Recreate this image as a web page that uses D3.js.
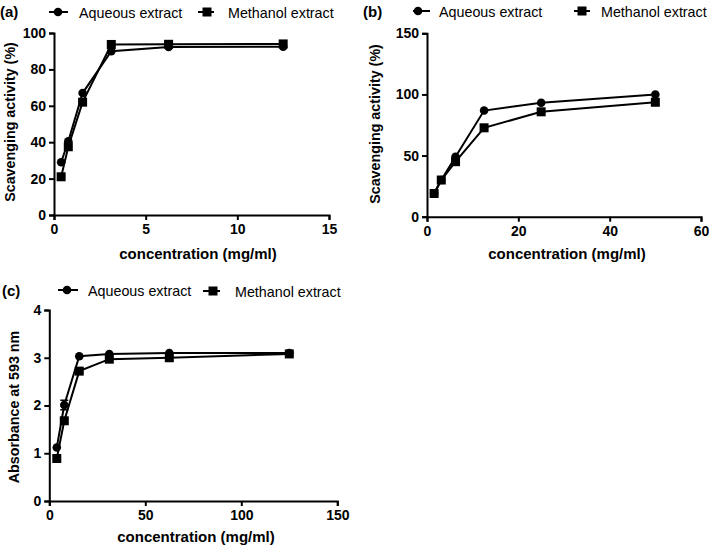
<!DOCTYPE html>
<html><head><meta charset="utf-8">
<script src="https://cdn.jsdelivr.net/npm/d3@7"></script>
<style>body{margin:0;background:#fff}svg{display:block;font-family:"Liberation Sans",Arial,sans-serif}</style>
</head><body>
<svg id="chart" width="709" height="550"></svg>
<script>
// Panel (a)
const concA = [0.39, 0.78, 1.56, 3.125, 6.25, 12.5];
const aqueousA = [29, 40.5, 67, 90, 92.3, 92.5];
const methanolA = [21, 37.5, 62, 93.7, 93.8, 94];
const xTicksA = [0, 5, 10, 15];
const yTicksA = [0, 20, 40, 60, 80, 100];
// Panel (b)
const concB = [1.56, 3.125, 6.25, 12.5, 25, 50];
const aqueousB = [19, 30, 49, 86.8, 93.2, 100];
const methanolB = [19, 30, 45, 72.7, 85.8, 93.6];
const xTicksB = [0, 20, 40, 60];
const yTicksB = [0, 50, 100, 150];
// Panel (c)
const concC = [3.9, 7.8, 15.6, 31.25, 62.5, 125];
const aqueousC = [1.12, 2.01, 3.03, 3.08, 3.1, 3.1];
const aqueousErrC = [0, 0.1, 0, 0, 0, 0];
const methanolC = [0.89, 1.68, 2.72, 2.97, 3.0, 3.08];
const methanolErrC = [0, 0.03, 0, 0, 0, 0];
const xTicksC = [0, 50, 100, 150];
const yTicksC = [0, 1, 2, 3, 4];

const seriesNames = ["Aqueous extract", "Methanol extract"];
const xTitle = "concentration (mg/ml)";

const svg = d3.select("#chart");

function panel(cfg) {
  const g = svg.append("g");
  const x = d3.scaleLinear().domain(cfg.xDomain).range(cfg.xRange);
  const y = d3.scaleLinear().domain(cfg.yDomain).range(cfg.yRange);
  const xAxis = g.append("g").attr("transform", `translate(0,${cfg.yRange[0]})`)
    .call(d3.axisBottom(x).tickValues(cfg.xTicks).tickSize(5).tickPadding(3).tickFormat(d3.format("d")));
  const yAxis = g.append("g").attr("transform", `translate(${cfg.xRange[0]},0)`)
    .call(d3.axisLeft(y).tickValues(cfg.yTicks).tickSize(5).tickPadding(3).tickFormat(d3.format("d")));
  [xAxis, yAxis].forEach(a => {
    a.select(".domain").attr("stroke", "#000").attr("stroke-width", 2);
    a.selectAll(".tick line").attr("stroke", "#000").attr("stroke-width", 2);
    a.selectAll(".tick text").attr("fill", "#000").attr("font-size", 14).attr("font-weight", "bold")
      .attr("font-family", '"Liberation Sans",Arial,sans-serif');
  });
  xAxis.selectAll(".tick text").attr("dy", "0.8em");

  const line = d3.line().x(d => x(d[0])).y(d => y(d[1]));
  cfg.series.forEach((s, i) => {
    const pts = cfg.conc.map((c, j) => [c, s.values[j], s.err ? s.err[j] : 0]);
    pts.filter(p => p[2] > 0).forEach(p => {
      g.append("line").attr("x1", x(p[0])).attr("x2", x(p[0]))
        .attr("y1", y(p[1] - p[2])).attr("y2", y(p[1] + p[2])).attr("stroke", "#000").attr("stroke-width", 1.5);
      [p[1] - p[2], p[1] + p[2]].forEach(v => g.append("line")
        .attr("x1", x(p[0]) - 4).attr("x2", x(p[0]) + 4).attr("y1", y(v)).attr("y2", y(v))
        .attr("stroke", "#000").attr("stroke-width", 1.5));
    });
    g.append("path").datum(pts).attr("d", line).attr("fill", "none").attr("stroke", "#000").attr("stroke-width", 2);
    pts.forEach(p => drawMarker(g, i, x(p[0]), y(p[1])));
  });

  svg.append("text").attr("x", cfg.label.x).attr("y", cfg.label.y).attr("font-size", 15).attr("font-weight", "bold").text(cfg.label.t);
  cfg.legend.forEach((L, i) => {
    g.append("line").attr("x1", L.x1).attr("x2", L.x2).attr("y1", L.y).attr("y2", L.y).attr("stroke", "#000").attr("stroke-width", 2);
    drawMarker(g, i, L.m, L.y);
    g.append("text").attr("x", L.tx).attr("y", L.y + 5.5).attr("font-size", 14.3).text(seriesNames[i]);
  });
  g.append("text").attr("x", cfg.xt[0]).attr("y", cfg.xt[1]).attr("text-anchor", "middle")
    .attr("font-size", 15).attr("font-weight", "bold").text(xTitle);
  g.append("text").attr("transform", `translate(${cfg.yt[0]},${cfg.yt[1]}) rotate(-90)`).attr("text-anchor", "middle")
    .attr("font-size", 14.3).attr("font-weight", "bold").text(cfg.yTitle);
}

function drawMarker(g, i, cx, cy) {
  if (i === 0) g.append("circle").attr("cx", cx).attr("cy", cy).attr("r", 4.3).attr("fill", "#000");
  else g.append("rect").attr("x", cx - 4.5).attr("y", cy - 4.5).attr("width", 9).attr("height", 9).attr("fill", "#000");
}

panel({
  xDomain: [0, 15], xRange: [54, 329], yDomain: [0, 100], yRange: [215, 33],
  xTicks: xTicksA, yTicks: yTicksA, conc: concA,
  series: [{values: aqueousA}, {values: methanolA}],
  label: {x: 0, y: 17, t: "(a)"},
  legend: [{x1: 49, x2: 68, m: 58, y: 12, tx: 79}, {x1: 198, x2: 214, m: 207, y: 12, tx: 228}],
  xt: [198, 259], yt: [15, 122], yTitle: "Scavenging activity (%)"
});
panel({
  xDomain: [0, 60], xRange: [427, 701], yDomain: [0, 150], yRange: [216.7, 33.3],
  xTicks: xTicksB, yTicks: yTicksB, conc: concB,
  series: [{values: aqueousB}, {values: methanolB}],
  label: {x: 363, y: 17, t: "(b)"},
  legend: [{x1: 413, x2: 430, m: 418, y: 11, tx: 439}, {x1: 574, x2: 590, m: 582, y: 11, tx: 601}],
  xt: [567, 259], yt: [380, 124], yTitle: "Scavenging activity (%)"
});
panel({
  xDomain: [0, 150], xRange: [49.3, 337.3], yDomain: [0, 4], yRange: [501, 310],
  xTicks: xTicksC, yTicks: yTicksC, conc: concC,
  series: [{values: aqueousC, err: aqueousErrC}, {values: methanolC, err: methanolErrC}],
  label: {x: 2, y: 296, t: "(c)"},
  legend: [{x1: 58, x2: 78, m: 67, y: 290, tx: 88}, {x1: 203, x2: 220, m: 213, y: 291, tx: 235}],
  xt: [196, 542], yt: [19, 407], yTitle: "Absorbance at 593 nm"
});
</script>
</body></html>
